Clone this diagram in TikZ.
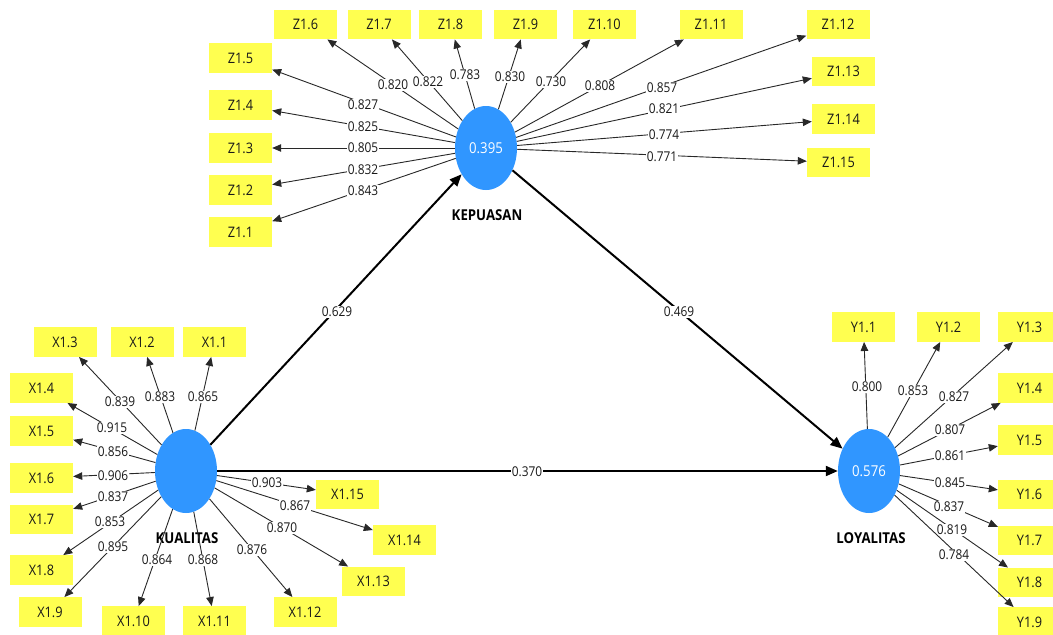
\documentclass[tikz,border=0pt]{standalone}
\usepackage{fontspec}
\setmainfont{Open Sans}[FakeStretch=0.88]
\usetikzlibrary{arrows.meta,shapes.geometric}
\definecolor{lvblue}{RGB}{48,150,255}
\definecolor{indyellow}{RGB}{255,255,80}
\definecolor{loadline}{RGB}{40,40,40}
\begin{document}
\begin{tikzpicture}[x=1pt,y=-1pt,
  latent/.style={ellipse,fill=lvblue,draw=none,minimum width=62pt,minimum height=84pt,inner sep=0pt,text=white,font=\fontsize{15}{15}\selectfont},
  latname/.style={font=\fontsize{15}{15}\selectfont\bfseries,text=black},
  indbox/.style={rectangle,fill=indyellow,draw=none,minimum width=63pt,minimum height=29.5pt,inner sep=0pt,font=\fontsize{14.5}{14.5}\selectfont,text=black!90},
  load/.style={draw=loadline,line width=0.9pt,-{Triangle[length=9pt,width=7.5pt]}},
  path/.style={draw=black,line width=2pt,-{Triangle[length=12pt,width=10pt]}},
  lbl/.style={fill=white,inner sep=0.8pt,font=\fontsize{13.5}{13.5}\selectfont,text=black!90}]
\useasboundingbox (0,0) rectangle (1053,635);
\fill[white] (0,0) rectangle (1053,635);

% latent variables
\node[latent] (kep) at (486,148) {0.395};
\node[latent] (kua) at (186,471) {};
\node[latent] (loy) at (869,471) {0.576};
\node[latname] (kepname) at (487,215) {KEPUASAN};
\node[latname] (kuaname) at (187,538) {KUALITAS};
\node[latname] (loyname) at (871,538) {LOYALITAS};

% indicator boxes Z
\foreach \n/\x/\y in {1/240.5/232,2/240.5/190,3/240.5/148,4/240.5/105,5/240.5/58,
  6/305.5/24.5,7/379/24.5,8/450.5/24.5,9/525.5/24.5,10/604.5/24.5,11/711/24.5,
  12/838/24.5,13/843.5/71.5,14/843.5/119,15/838.5/162.5}
  \node[indbox] (z\n) at (\x,\y) {Z1.\n};

% indicator boxes X
\foreach \n/\x/\y in {1/214.5/342,2/142/342,3/65/342,4/41.5/388,5/41.5/431,
  6/41.5/478,7/41.5/519.5,8/41.5/570,9/50/612,10/133.5/621,11/214.5/621,
  12/305/612,13/373.5/581.5,14/404.5/540,15/347.5/494.5}
  \node[indbox] (x\n) at (\x,\y) {X1.\n};

% indicator boxes Y
\foreach \n/\x/\y in {1/863.5/327,2/948.5/327,3/1029.5/327,4/1029.5/388,
  5/1029.5/440,6/1029.5/494.5,7/1029.5/540.5,8/1029.5/582.5,9/1029.5/622}
  \node[indbox] (y\n) at (\x,\y) {Y1.\n};

% loadings Z
\foreach \n/\v/\lx/\ly in {1/0.843/363/191,2/0.832/363/170,3/0.805/363/148,
  4/0.825/363/127,5/0.827/363/105,6/0.820/393/85,7/0.822/428/82,8/0.783/465/75,
  9/0.830/510/77,10/0.730/551/82,11/0.808/600/86,12/0.857/662/88,
  13/0.821/664/109,14/0.774/664/135,15/0.771/662/157}
  \draw[load] (kep) -- (z\n) node[lbl] at (\lx,\ly) {\v};

% loadings X
\foreach \n/\v/\lx/\ly in {1/0.865/203/397,2/0.883/160/397,3/0.839/120/402,
  4/0.915/112/428,5/0.856/113/452,6/0.906/113/476,7/0.837/113/497,
  8/0.853/110/522,9/0.895/113/547,10/0.864/157/560,11/0.868/203/560,
  12/0.876/252/550,13/0.870/282/528,14/0.867/295/506,15/0.903/267/483}
  \draw[load] (kua) -- (x\n) node[lbl] at (\lx,\ly) {\v};

% loadings Y
\foreach \n/\v/\lx/\ly in {1/0.800/867/387,2/0.853/913/391,3/0.827/954/397,
  4/0.807/950/430,5/0.861/950/456,6/0.845/950/483,7/0.837/949/507,
  8/0.819/952/530,9/0.784/954/555}
  \draw[load] (loy) -- (y\n) node[lbl] at (\lx,\ly) {\v};

% structural paths
\draw[path] (kua) -- (kep) node[lbl] at (337,312) {0.629};
\draw[path] (kep) -- (loy) node[lbl] at (679,312) {0.469};
\draw[path] (kua) -- (loy) node[lbl] at (527,472) {0.370};
\end{tikzpicture}
\end{document}
